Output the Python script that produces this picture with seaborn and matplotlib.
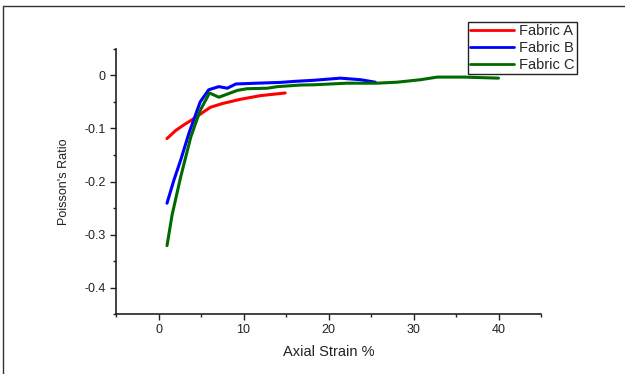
import pandas as pd
import matplotlib.pyplot as plt
import seaborn as sns
from matplotlib.lines import Line2D
from matplotlib.ticker import MultipleLocator

# Values
strain_a = [1.0, 2.0, 3.0, 3.8, 5.0, 6.1, 7.5, 9.6, 12.0, 14.9]
ratio_a = [-0.119, -0.104, -0.093, -0.085, -0.072, -0.060, -0.053, -0.045, -0.038, -0.033]

strain_b = [1.0, 1.8, 2.6, 3.6, 4.9, 5.9, 7.1, 8.1, 9.1, 11.6, 14.4, 16.1, 18.3, 21.4, 23.8, 25.5]
ratio_b = [-0.241, -0.198, -0.160, -0.108, -0.050, -0.027, -0.021, -0.024, -0.016, -0.0145, -0.013, -0.011, -0.009, -0.005, -0.008, -0.0126]

strain_c = [1.0, 1.6, 2.6, 3.8, 4.9, 6.0, 7.1, 9.3, 10.4, 12.8, 14.0, 16.7, 18.3, 22.2, 25.7, 28.1, 30.8, 32.8, 35.9, 40.0]
ratio_c = [-0.321, -0.263, -0.192, -0.116, -0.066, -0.033, -0.041, -0.028, -0.025, -0.024, -0.021, -0.018, -0.0175, -0.0145, -0.0145, -0.0126, -0.008, -0.003, -0.003, -0.005]

labels = ["Fabric A", "Fabric B", "Fabric C"]
colors = ["#ff0000", "#0000ff", "#006a00"]

df = pd.concat([
    pd.DataFrame({"strain": strain_a, "ratio": ratio_a, "fabric": labels[0]}),
    pd.DataFrame({"strain": strain_b, "ratio": ratio_b, "fabric": labels[1]}),
    pd.DataFrame({"strain": strain_c, "ratio": ratio_c, "fabric": labels[2]}),
])

sns.set_style("ticks")
plt.rcParams["font.family"] = ["Liberation Sans", "DejaVu Sans"]

fig = plt.figure(figsize=(6.25, 3.74), dpi=100)
ax = fig.add_axes([0.1856, 0.1604, 0.68, 0.7086])

sns.lineplot(data=df, x="strain", y="ratio", hue="fabric", palette=colors,
             sort=False, estimator=None, linewidth=2.2, ax=ax)

ax.set_xlim(-5, 45)
ax.set_ylim(-0.45, 0.05)
ax.xaxis.set_minor_locator(MultipleLocator(5))
ax.yaxis.set_minor_locator(MultipleLocator(0.05))
ax.set_xticks([0, 10, 20, 30, 40])
ax.set_xticklabels(["0", "10", "20", "30", "40"])
ax.set_yticks([0, -0.1, -0.2, -0.3, -0.4])
ax.set_yticklabels(["0", "-0.1", "-0.2", "-0.3", "-0.4"])
ax.tick_params(which="major", length=4, width=1, labelsize=9, colors="#222222", direction="out")
ax.tick_params(which="minor", length=2.5, width=1, colors="#222222", direction="out")

sns.despine(ax=ax)
for s in ["left", "bottom"]:
    ax.spines[s].set_color("#222222")
    ax.spines[s].set_linewidth(1.2)

ax.set_xlabel("Axial Strain %", fontsize=10.5, color="#222222", labelpad=6)
ax.set_ylabel("Poisson's Ratio", fontsize=9, color="#222222", labelpad=10)

ax.legend_.remove()
handles = [Line2D([0], [0], color=c, lw=2) for c in colors]
leg = fig.legend(handles, labels, loc="upper left", bbox_to_anchor=(0.749, 0.941),
                 bbox_transform=fig.transFigure, fontsize=10.5, handlelength=3.0,
                 labelspacing=0.2, borderpad=0.15, handletextpad=0.35,
                 borderaxespad=0, fancybox=False, framealpha=1)
leg.get_frame().set_edgecolor("#222222")
leg.get_frame().set_linewidth(1)

# thin frame round the figure (top and left edges)
fig.add_artist(Line2D([0.0048, 1.0], [0.984, 0.984], transform=fig.transFigure, color="#333333", lw=1))
fig.add_artist(Line2D([0.0048, 0.0048], [0.0, 0.984], transform=fig.transFigure, color="#333333", lw=1))

fig.savefig("out.png", dpi=100)
